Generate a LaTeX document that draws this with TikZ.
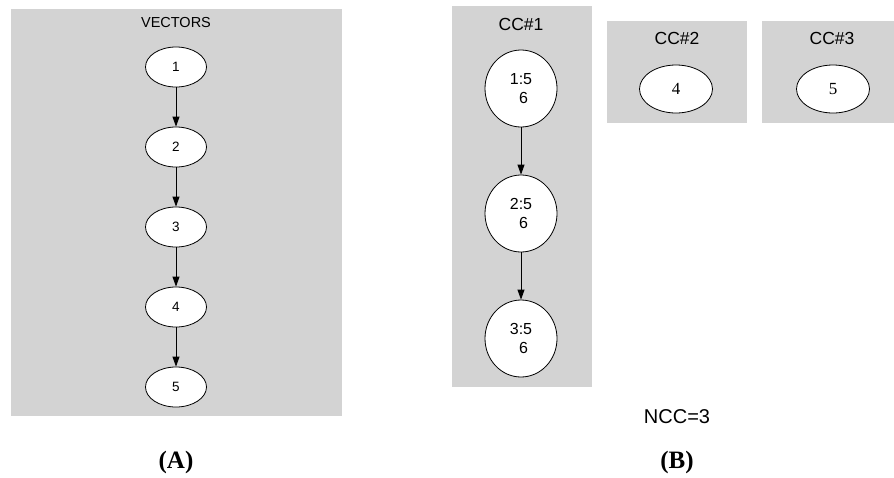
\documentclass[tikz,border=0pt]{standalone}
\usepackage{fontspec}
\setmainfont{Liberation Serif}
\setsansfont{Liberation Sans}
\usetikzlibrary{shapes.geometric,arrows.meta}
\definecolor{gvgray}{HTML}{D3D3D3}
\begin{document}
\begin{tikzpicture}[x=1pt,y=-1pt,
  panel/.style={fill=gvgray},
  vnode/.style={ellipse,draw,fill=white,line width=0.8pt,minimum width=61pt,minimum height=40pt,inner sep=0pt,font=\sffamily\fontsize{13.5}{16}\selectfont},
  ccnode/.style={ellipse,draw,fill=white,line width=0.8pt,minimum width=72pt,minimum height=77pt,inner sep=0pt,align=center,font=\sffamily\fontsize{16}{19}\selectfont},
  snode/.style={ellipse,draw,fill=white,line width=0.8pt,minimum width=73pt,minimum height=48pt,inner sep=0pt,font=\rmfamily\fontsize{17}{20}\selectfont},
  link/.style={-{Triangle[length=10pt,width=7pt]},line width=0.8pt},
  vtitle/.style={font=\sffamily\fontsize{14.5}{17}\selectfont},
  cctitle/.style={font=\sffamily\fontsize{17.5}{20}\selectfont},
  caption/.style={font=\rmfamily\bfseries\fontsize{25}{28}\selectfont},
  ncc/.style={font=\sffamily\fontsize{20}{24}\selectfont}]
\useasboundingbox (0,0) rectangle (894,477);
% panels
\fill[panel] (11,9) rectangle (342,416);
\fill[panel] (452,6) rectangle (592,387);
\fill[panel] (607,21) rectangle (747,123);
\fill[panel] (762,21) rectangle (894,123);
% (A) vectors
\node[vtitle] (vt) at (176,23) {VECTORS};
\node[vnode] (v1) at (176,67) {1};
\node[vnode] (v2) at (176,147) {2};
\node[vnode] (v3) at (176,227) {3};
\node[vnode] (v4) at (176,307) {4};
\node[vnode] (v5) at (176,387) {5};
\draw[link] (v1) -- (v2);
\draw[link] (v2) -- (v3);
\draw[link] (v3) -- (v4);
\draw[link] (v4) -- (v5);
% (B) components
\node[cctitle] (t1) at (521,24) {CC\#1};
\node[cctitle] (t2) at (677,38) {CC\#2};
\node[cctitle] (t3) at (832,38) {CC\#3};
\node[ccnode] (c1) at (521,88.5) {1:5\\\hspace*{5pt}6};
\node[ccnode] (c2) at (521,213.5) {2:5\\\hspace*{5pt}6};
\node[ccnode] (c3) at (521,338.5) {3:5\\\hspace*{5pt}6};
\draw[link] (c1) -- (c2);
\draw[link] (c2) -- (c3);
\node[snode] (s4) at (676,89) {4};
\node[snode] (s5) at (833,89) {5};
\node[ncc] (ncc) at (677,417) {NCC=3};
% captions
\node[caption] (capA) at (176,462) {(A)};
\node[caption] (capB) at (677,462) {(B)};
\end{tikzpicture}
\end{document}
